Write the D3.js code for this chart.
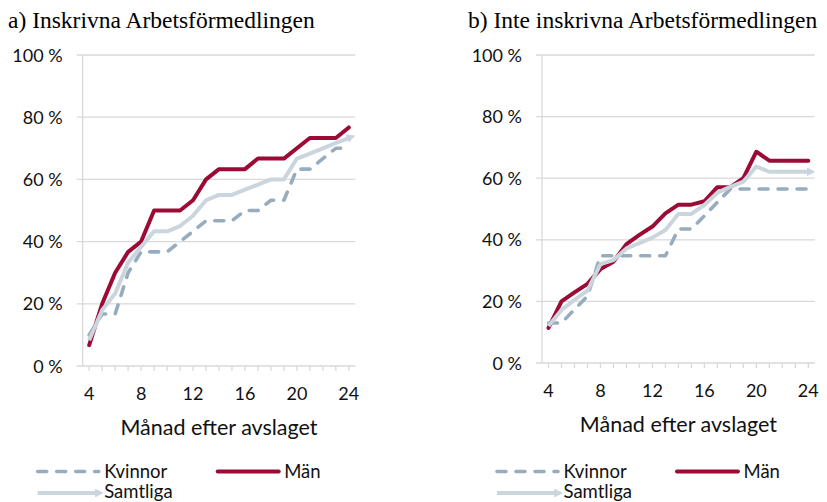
<!DOCTYPE html>
<html>
<head>
<meta charset="utf-8">
<script src="https://d3js.org/d3.v7.min.js"></script>
<style>
  body { margin: 0; background: #fff; }
  svg { display: block; }
</style>
</head>
<body>
<svg id="chart" width="827" height="502"></svg>
<script>

// months on the x axis
var months = [4,5,6,7,8,9,10,11,12,13,14,15,16,17,18,19,20,21,22,23,24];
var tickMonths = [4,8,12,16,20,24];
var yTicks = [0,20,40,60,80,100];
var seriesNames = ['Kvinnor', 'Män', 'Samtliga'];

// a) Inskrivna Arbetsförmedlingen (percent)
var kvinnorA = [10,16.7,16.7,30,36.7,36.7,36.7,40,43.3,46.7,46.7,46.7,50,50,53.3,53.3,63.3,63.3,66.7,70,70];
var manA = [6.7,20,30,36.7,40,50,50,50,53.3,60,63.3,63.3,63.3,66.7,66.7,66.7,70,73.3,73.3,73.3,76.7];
var samtligaA = [8.3,18,23.3,33.3,38.3,43.3,43.3,45,48.3,53.3,55,55,56.7,58.3,60,60,66.7,68.3,70,71.7,73.3];

// b) Inte inskrivna Arbetsförmedlingen (percent)
var kvinnorB = [13,13,17.4,21.7,34.8,34.8,34.8,34.8,34.8,34.8,43.5,43.5,47.8,52.2,56.5,56.5,56.5,56.5,56.5,56.5,56.5];
var manB = [11.4,20,22.9,25.7,30.5,32.9,38.6,41.6,44.3,48.6,51.4,51.4,52.5,57.1,57.1,60,68.6,65.7,65.7,65.7,65.7];
var samtligaB = [12,17.2,20.5,23.5,32.1,33.4,37.2,38.9,40.7,43.2,48.4,48.4,51.3,55.3,57.2,58.9,63.8,62.1,62.1,62.1,62.1];

var colors = ['#97adbe', '#9c0b35', '#cbd5de'];
var gridColor = '#d9d9d9';
var sansFont = 'Lato, "Open Sans", sans-serif';

var svg = d3.select('#chart');

// arrow head for Samtliga
svg.append('defs')
  .append('marker')
  .attr('id', 'arrow')
  .attr('viewBox', '0 0 10 10')
  .attr('refX', 2)
  .attr('refY', 5)
  .attr('markerWidth', 2.2)
  .attr('markerHeight', 2.2)
  .attr('orient', 'auto')
  .append('path')
  .attr('d', 'M0,0 L10,5 L0,10 Z')
  .attr('fill', colors[2]);

function drawPanel(p) {
  var g = svg.append('g');

  var x = d3.scalePoint()
    .domain(months)
    .range([p.left, p.right])
    .padding(0.5);

  var y = d3.scaleLinear()
    .domain([0, 100])
    .range([p.bottom, p.top]);

  // title
  g.append('text')
    .attr('x', p.titleX)
    .attr('y', 28)
    .style('font-family', '"Liberation Serif", "Times New Roman", serif')
    .style('font-size', '23.5px')
    .attr('fill', '#000')
    .text(p.title);

  // horizontal grid lines
  g.selectAll('.grid')
    .data(yTicks.slice(1))
    .enter()
    .append('line')
    .attr('x1', p.left - 6)
    .attr('x2', p.right)
    .attr('y1', function(d) { return y(d); })
    .attr('y2', function(d) { return y(d); })
    .attr('stroke', gridColor)
    .attr('stroke-width', 1.3);

  // y axis line
  g.append('line')
    .attr('x1', p.left).attr('x2', p.left)
    .attr('y1', p.top).attr('y2', p.bottom)
    .attr('stroke', gridColor)
    .attr('stroke-width', 1.3);

  // x axis line
  g.append('line')
    .attr('x1', p.left - 6).attr('x2', p.right)
    .attr('y1', p.bottom).attr('y2', p.bottom)
    .attr('stroke', gridColor)
    .attr('stroke-width', 1.3);

  // tick marks under the x axis
  g.selectAll('.tick')
    .data(months)
    .enter()
    .append('line')
    .attr('x1', function(d) { return x(d); })
    .attr('x2', function(d) { return x(d); })
    .attr('y1', p.bottom)
    .attr('y2', p.bottom + 5)
    .attr('stroke', gridColor)
    .attr('stroke-width', 1.3);

  // y labels
  g.selectAll('.ylab')
    .data(yTicks)
    .enter()
    .append('text')
    .attr('x', p.left - 20)
    .attr('y', function(d) { return y(d) + 6.5; })
    .attr('text-anchor', 'end')
    .style('font-family', sansFont)
    .style('font-size', '18px')
    .attr('fill', '#111')
    .text(function(d) { return d + ' %'; });

  // x labels
  g.selectAll('.xlab')
    .data(tickMonths)
    .enter()
    .append('text')
    .attr('x', function(d) { return x(d); })
    .attr('y', p.bottom + 34)
    .attr('text-anchor', 'middle')
    .style('font-family', sansFont)
    .style('font-size', '18px')
    .attr('fill', '#111')
    .text(function(d) { return d; });

  // x axis title
  g.append('text')
    .attr('x', (p.left + p.right) / 2)
    .attr('y', p.bottom + 69)
    .attr('text-anchor', 'middle')
    .style('font-family', sansFont)
    .style('font-size', '21.5px')
    .attr('fill', '#111')
    .text('Månad efter avslaget');

  var line = d3.line()
    .x(function(d, i) { return x(months[i]); })
    .y(function(d) { return y(d); });

  // Kvinnor (dashed)
  g.append('path')
    .attr('d', line(p.kvinnor))
    .attr('fill', 'none')
    .attr('stroke', colors[0])
    .attr('stroke-width', 3.6)
    .attr('stroke-linecap', 'round')
    .attr('stroke-linejoin', 'round')
    .attr('stroke-dasharray', '9 10');

  // Män
  g.append('path')
    .attr('d', line(p.man))
    .attr('fill', 'none')
    .attr('stroke', colors[1])
    .attr('stroke-width', 4)
    .attr('stroke-linejoin', 'round')
    .attr('stroke-linecap', 'round');

  // Samtliga
  g.append('path')
    .attr('d', line(p.samtliga))
    .attr('fill', 'none')
    .attr('stroke', colors[2])
    .attr('stroke-width', 4)
    .attr('stroke-linejoin', 'round')
    .attr('marker-end', 'url(#arrow)');

  // legend
  var lx = p.left - 46;
  var legend = [
    {x: lx, y: 471.5, name: seriesNames[0], i: 0},
    {x: lx + 180, y: 471.5, name: seriesNames[1], i: 1},
    {x: lx, y: 493, name: seriesNames[2], i: 2}
  ];

  legend.forEach(function(d) {
    var l = g.append('line')
      .attr('x1', d.x + 1)
      .attr('x2', d.x + (d.i == 2 ? 60 : 62))
      .attr('y1', d.y)
      .attr('y2', d.y)
      .attr('stroke', colors[d.i])
      .attr('stroke-width', d.i == 0 ? 3.6 : 4)
      .attr('stroke-linecap', d.i == 2 ? 'butt' : 'round');
    if (d.i == 0) l.attr('stroke-dasharray', '9 10');
    if (d.i == 2) l.attr('marker-end', 'url(#arrow)');

    g.append('text')
      .attr('x', d.x + 67.5)
      .attr('y', d.y + (d.i == 2 ? 4.5 : 6))
      .style('font-family', sansFont)
      .style('font-size', '18.5px')
      .attr('fill', '#111')
      .text(d.name);
  });
}

drawPanel({
  title: 'a) Inskrivna Arbetsförmedlingen',
  titleX: 8,
  left: 82.7, right: 355.3, top: 55, bottom: 366,
  kvinnor: kvinnorA, man: manA, samtliga: samtligaA
});

drawPanel({
  title: 'b) Inte inskrivna Arbetsförmedlingen',
  titleX: 468,
  left: 542, right: 814.8, top: 55, bottom: 363,
  kvinnor: kvinnorB, man: manB, samtliga: samtligaB
});

</script>
</body>
</html>
